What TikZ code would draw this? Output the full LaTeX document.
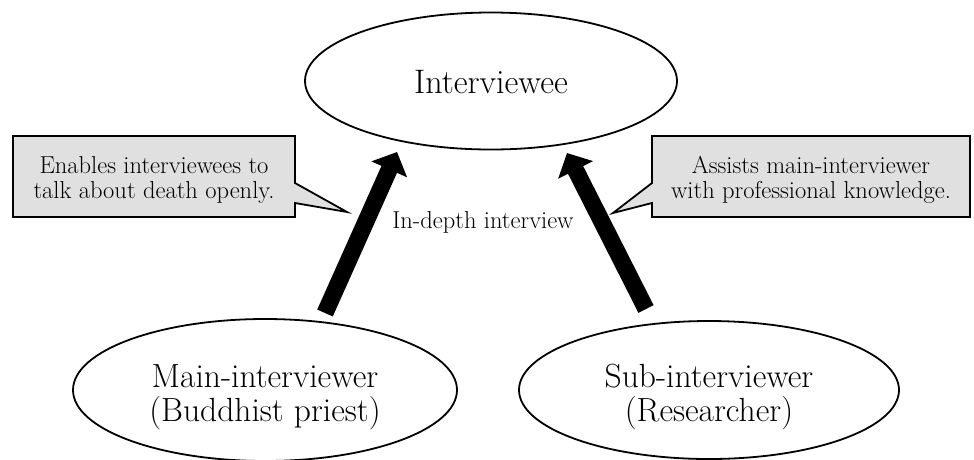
\documentclass[tikz,border=0pt]{standalone}
\usetikzlibrary{arrows.meta,shapes.geometric}
\definecolor{callgray}{RGB}{224,224,224}
\begin{document}
\begin{tikzpicture}[x=1pt,y=-1pt,
  oval/.style={draw=black,line width=1.8pt,ellipse,inner sep=0pt},
  bigtext/.style={font=\fontsize{33.5}{34}\selectfont,align=center,inner sep=0pt},
  smalltext/.style={font=\fontsize{24.5}{25}\selectfont,align=center,inner sep=0pt},
  callout/.style={fill=callgray,draw=black,line width=1.8pt,line join=miter},
  bigarrow/.style={line width=17pt,-{Triangle[width=38pt,length=19pt]}}
]
\useasboundingbox (0,0) rectangle (974,459);
% ellipses
\node[oval,minimum width=372pt,minimum height=137pt] (ie) at (491,81) {};
\node[bigtext,font=\fontsize{34}{34}\selectfont] (iet) at (491,82) {Interviewee};
\node[oval,minimum width=384pt,minimum height=142pt] (mi) at (265,390) {};
\node[bigtext] (mit) at (265,397) {Main-interviewer\\(Buddhist priest)};
\node[oval,minimum width=380pt,minimum height=138pt] (si) at (709,390) {};
\node[bigtext] (sit) at (709,397) {Sub-interviewer\\(Researcher)};
% callouts
\path[callout] (13,136) -- (295,136) -- (295,183) -- (347,212) -- (295,203) -- (295,217) -- (13,217) -- cycle;
\node[smalltext] (lc) at (154,180) {Enables interviewees to\\talk about death openly.};
\path[callout] (970,136) -- (652,136) -- (652,183) -- (613,213) -- (652,203) -- (652,217) -- (970,217) -- cycle;
\node[smalltext] (rc) at (811,180) {Assists main-interviewer\\with professional knowledge.};
% arrows
\coordinate (la1) at (325,313);
\coordinate (la2) at (397,152);
\coordinate (ra1) at (646,309);
\coordinate (ra2) at (567,153);
\draw[bigarrow] (la1) -- (la2);
\draw[bigarrow] (ra1) -- (ra2);
\node[smalltext,anchor=base] (lbl) at (483,228) {In-depth interview};
\end{tikzpicture}
\end{document}
